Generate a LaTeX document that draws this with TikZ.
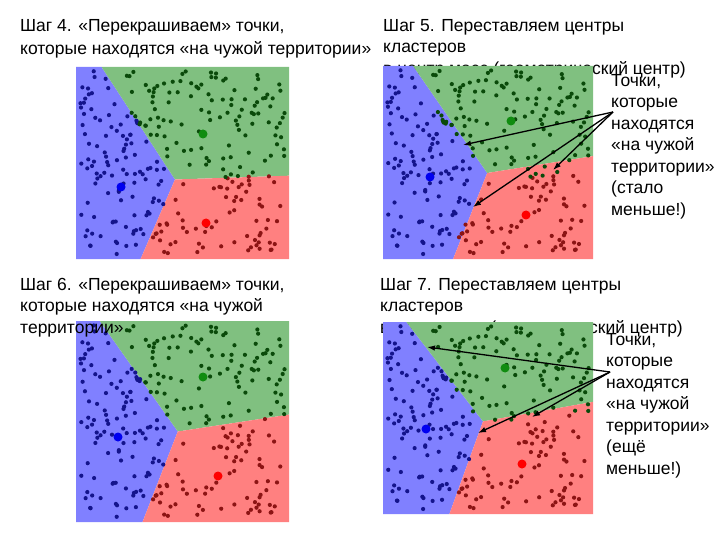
\documentclass[tikz,border=0pt]{standalone}
\usepackage{fontspec}
\setmainfont{Liberation Sans}
\usepackage{xcolor}
\usetikzlibrary{arrows.meta, positioning}
\definecolor{km-bluezone}{HTML}{8080FF}
\definecolor{km-greenzone}{HTML}{80C080}
\definecolor{km-redzone}{HTML}{FF8080}
\definecolor{kmdot1}{HTML}{14148C}
\definecolor{kmdot2}{HTML}{0A4A0A}
\definecolor{kmdot3}{HTML}{8C1414}
\definecolor{km-blue}{HTML}{0000F0}
\definecolor{km-green}{HTML}{108C10}
\definecolor{km-red}{HTML}{FF0000}

% zones of one panel: x0, y0, x1, y1, top split, vertex x, vertex y, bottom split, right split
\newcommand{\kmzones}[9]{%
  \fill[km-bluezone] (#1,#2) -- (#5,#2) -- (#6,#7) -- (#8,#4) -- (#1,#4) -- cycle;
  \fill[km-greenzone] (#5,#2) -- (#3,#2) -- (#3,#9) -- (#6,#7) -- cycle;
  \fill[km-redzone] (#6,#7) -- (#3,#9) -- (#3,#4) -- (#8,#4) -- cycle;
}
% dots of one panel: x0, y0, width, height (centres from \kmgu ... \kmrv)
\newcommand{\kmdots}[4]{%
  \pgfmathsetseed{2718}%
  \foreach \k in {1,...,290}{
    \pgfmathsetmacro{\pu}{0.02+0.96*rnd}
    \pgfmathsetmacro{\pv}{0.02+0.96*rnd}
    \pgfmathsetmacro{\dblue}{((\pu-\kmbu)*#3/100)^2+((\pv-\kmbv)*#4/100)^2}
    \pgfmathsetmacro{\dgreen}{((\pu-\kmgu)*#3/100)^2+((\pv-\kmgv)*#4/100)^2}
    \pgfmathsetmacro{\dred}{((\pu-\kmru)*#3/100)^2+((\pv-\kmrv)*#4/100)^2}
    \pgfmathtruncatemacro{\dotcol}{(\dblue<\dgreen && \dblue<\dred) ? 1 : ((\dgreen<\dred) ? 2 : 3)}
    \fill[kmdot\dotcol] ({#1+\pu*#3},{#2+\pv*#4}) circle[radius=2.1pt];
  }%
}

\begin{document}
\begin{tikzpicture}[
    x=1pt, y=-1pt,
    title/.style={anchor=north west, inner sep=0pt, align=left,
      font=\fontsize{17.5}{21.5}\selectfont},
    note/.style={anchor=north west, inner sep=0pt, align=left,
      font=\fontsize{17.5}{21.5}\selectfont},
    pointer/.style={-{Latex[length=8pt,width=5.5pt]}, line width=1.3pt}
  ]
  \useasboundingbox (0,0) rectangle (720,540);

  % titles (behind the pictures)
  \node[title, font=\fontsize{17.5}{23.5}\selectfont] (t4) at (20,19) {Шаг 4. «Перекрашиваем» точки,\\которые находятся «на чужой территории»};
  \node[title] (t5) at (383,19) {Шаг 5. Переставляем центры\\кластеров\\в центр масс (геометрический центр)};
  \node[title] (t7) at (380,278) {Шаг 7. Переставляем центры\\кластеров\\в центр масс (геометрический центр)};

  % step 4
  \kmzones{76}{67}{289}{259}{101.6}{175}{179.5}{140.6}{175.7}
  \def\kmgu{0.596}\def\kmgv{0.347}\def\kmbu{0.211}\def\kmbv{0.622}\def\kmru{0.610}\def\kmrv{0.808}
  \kmdots{76}{67}{213}{192}
  \fill[km-green] (203,134) circle[radius=4.5pt];
  \fill[km-blue] (121,187) circle[radius=4.5pt];
  \fill[km-red] (206,223) circle[radius=4.5pt];

  % step 5
  \kmzones{383}{66}{593}{259}{413.1}{487.2}{173}{453.1}{156.1}
  \kmdots{383}{66}{210}{193}
  \fill[km-green] (511,121) circle[radius=4.5pt];
  \fill[km-blue] (430,177) circle[radius=4.5pt];
  \fill[km-red] (526,215) circle[radius=4.5pt];

  % step 6
  \kmzones{76}{321}{289}{522}{99.8}{177.8}{431.5}{142.5}{414.6}
  \def\kmgu{0.596}\def\kmgv{0.279}\def\kmbu{0.197}\def\kmbv{0.577}\def\kmru{0.667}\def\kmrv{0.771}
  \kmdots{76}{321}{213}{201}
  \fill[km-green] (203,377) circle[radius=4.5pt];
  \fill[km-blue] (118,437) circle[radius=4.5pt];
  \fill[km-red] (218,476) circle[radius=4.5pt];
  \node[title] (t6) at (20,278) {Шаг 6. «Перекрашиваем» точки,\\которые находятся «на чужой\\территории»};

  % step 7
  \kmzones{383}{322}{593}{514}{406.4}{483}{421.4}{449.4}{401.9}
  \kmdots{383}{322}{210}{192}
  \fill[km-green] (505,368) circle[radius=4.5pt];
  \fill[km-blue] (426,429) circle[radius=4.5pt];
  \fill[km-red] (522,464) circle[radius=4.5pt];

  % notes with arrows
  \node[note] (n5) at (611,74) {Точки,\\которые\\находятся\\«на чужой\\территории»\\(стало\\меньше!)};
  \coordinate (s5) at (613,112);
  \coordinate (m5a) at (463,145);
  \coordinate (m5b) at (473,207);
  \coordinate (m5c) at (553,170);
  \draw[pointer] (s5) -- (m5a);
  \draw[pointer] (s5) -- (m5b);
  \draw[pointer] (s5) -- (m5c);

  \node[note] (n7) at (606,333) {Точки,\\которые\\находятся\\«на чужой\\территории»\\(ещё\\меньше!)};
  \coordinate (s7) at (610,372);
  \coordinate (m7a) at (427,347);
  \coordinate (m7b) at (478,433);
  \coordinate (m7c) at (532,417);
  \draw[pointer] (s7) -- (m7a);
  \draw[pointer] (s7) -- (m7b);
  \draw[pointer] (s7) -- (m7c);
\end{tikzpicture}
\end{document}
